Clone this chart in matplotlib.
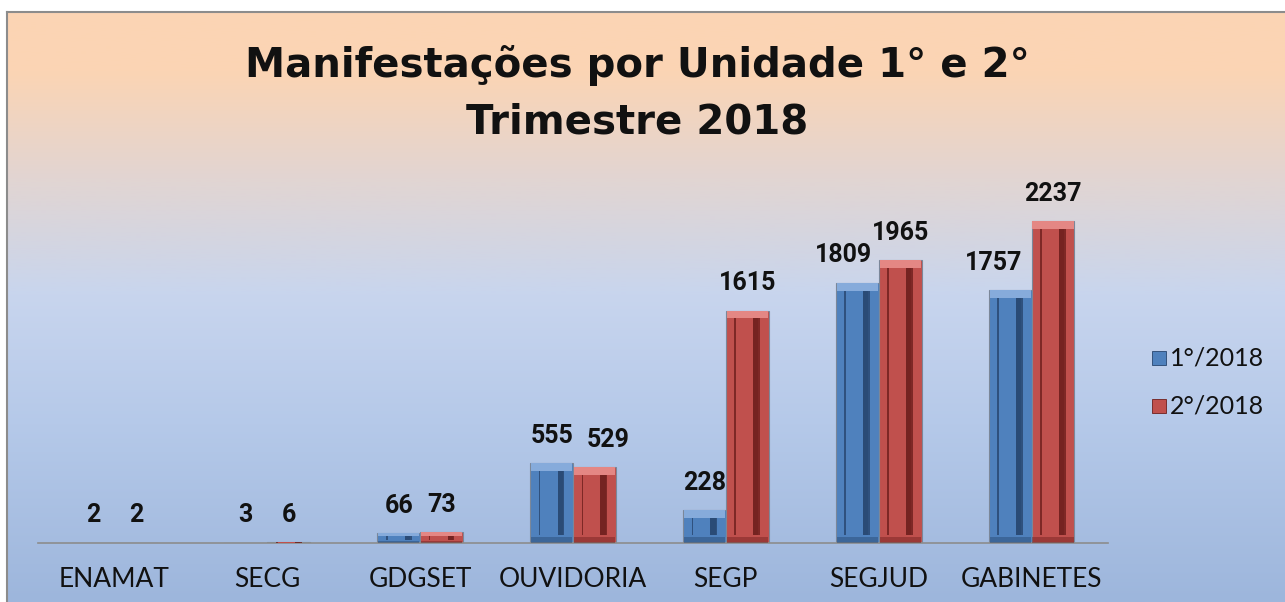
import numpy as np
import matplotlib
matplotlib.use("Agg")
import matplotlib.pyplot as plt
from matplotlib.colors import LinearSegmentedColormap
from matplotlib.patches import Rectangle

categories = ["ENAMAT", "SECG", "GDGSET", "OUVIDORIA", "SEGP", "SEGJUD", "GABINETES"]
q1_2018 = [2, 3, 66, 555, 228, 1809, 1757]
q2_2018 = [2, 6, 73, 529, 1615, 1965, 2237]
series_names = ["1°/2018", "2°/2018"]

# horizontal nudges (points) of data labels that would otherwise collide
label_nudge = {(0, 5): -10, (0, 6): -12, (1, 3): 10}

W, H = 1285, 602
fig = plt.figure(figsize=(W / 100, H / 100), dpi=100)
fig.patch.set_facecolor("white")

# gradient background inside the chart frame
bg = fig.add_axes([7 / W, 0, 1 - 7 / W, 1 - 12 / H])
grad = LinearSegmentedColormap.from_list(
    "bg", [(0, "#9db6dc"), (0.3, "#b5c9e9"), (0.52, "#c8d5ee"),
           (0.72, "#e2d5d2"), (0.9, "#fbd4b4"), (1, "#fcd5b4")])
bg.imshow(np.linspace(0, 1, 256).reshape(-1, 1), aspect="auto", cmap=grad,
          origin="lower", extent=[0, 1, 0, 1])
bg.set_xlim(0, 1); bg.set_ylim(0, 1)
bg.set_xticks([]); bg.set_yticks([])
for s in bg.spines.values():
    s.set_edgecolor("#8c8c8c"); s.set_linewidth(1.5)
bg.spines["right"].set_visible(False)
bg.spines["bottom"].set_visible(False)

ymax = 2600
px_per_unit = 322 / 2237
ax_h = ymax * px_per_unit
ax = fig.add_axes([38 / W, 59 / H, 1070 / W, ax_h / H])
ax.patch.set_alpha(0)
ax.set_xlim(-0.5, len(categories) - 0.5)
ax.set_ylim(0, ymax)

x = np.arange(len(categories))
bw = 0.28
styles = [("#4f81bd", "#27466f", "#86abdb"), ("#c0504d", "#6e1f1d", "#e48784")]
for k, (vals, (c, dark, light)) in enumerate(zip([q1_2018, q2_2018], styles)):
    xs = x + (k - 0.5) * bw
    v = np.array(vals, dtype=float)
    bev = np.minimum(55, v * 0.3)
    ax.bar(xs, v, width=bw, color=c, edgecolor="#7b8799", linewidth=0.8, zorder=2)
    # bevel: light top band, dark bottom band
    ax.bar(xs, bev, bottom=v - bev, width=bw * 0.96, color=light, linewidth=0,
           zorder=3)
    ax.bar(xs, bev * 0.7, width=bw * 0.96, color=dark, alpha=0.45, linewidth=0,
           zorder=3)
    # inner channel with shaded right edge
    inner = np.maximum(v - 2 * bev, 0)
    ax.bar(xs, inner, bottom=bev, width=bw * 0.6, color=dark, alpha=0.8,
           linewidth=0, zorder=4)
    ax.bar(xs - bw * 0.06, inner, bottom=bev, width=bw * 0.4, color=c,
           linewidth=0, zorder=5)
    ax.bar(xs + bw * 0.2, inner, bottom=bev, width=bw * 0.12, color=dark,
           alpha=0.5, linewidth=0, zorder=5)
    for j, (xi, vi) in enumerate(zip(xs, vals)):
        dx = label_nudge.get((k, j), 0)
        ax.annotate(f"{vi}", (xi, vi), xytext=(dx, 11), textcoords="offset points",
                    ha="center", va="bottom", fontsize=18, fontweight="bold",
                    family="Roboto", color="#111111", zorder=6)

for s in ["top", "right", "left"]:
    ax.spines[s].set_visible(False)
ax.spines["bottom"].set_color("#8c8c8c")
ax.spines["bottom"].set_linewidth(1.2)
ax.set_yticks([])
ax.set_xticks(x)
ax.set_xticklabels(categories, fontsize=19, color="#111111", family="Lato")
ax.tick_params(axis="x", length=0, pad=17)

fig.text(637 / W, 1 - 66 / H, "Manifestações por Unidade 1° e 2°", ha="center",
         va="center", fontsize=29, fontweight="bold", color="#111111")
fig.text(637 / W, 1 - 123 / H, "Trimestre 2018", ha="center", va="center",
         fontsize=29, fontweight="bold", color="#111111")

# legend
for i, (name, (c, dark, light)) in enumerate(zip(series_names, styles)):
    yy = 1 - (358 + 48 * i) / H
    fig.patches.append(Rectangle((1152 / W, yy - 7 / H), 14 / W, 14 / H,
                                 transform=fig.transFigure, facecolor=c,
                                 edgecolor=dark, linewidth=0.6, zorder=10))
    fig.text(1170 / W, yy, name, ha="left", va="center", fontsize=18,
             family="Lato", color="#111111")

fig.savefig("out.png", dpi=100)
